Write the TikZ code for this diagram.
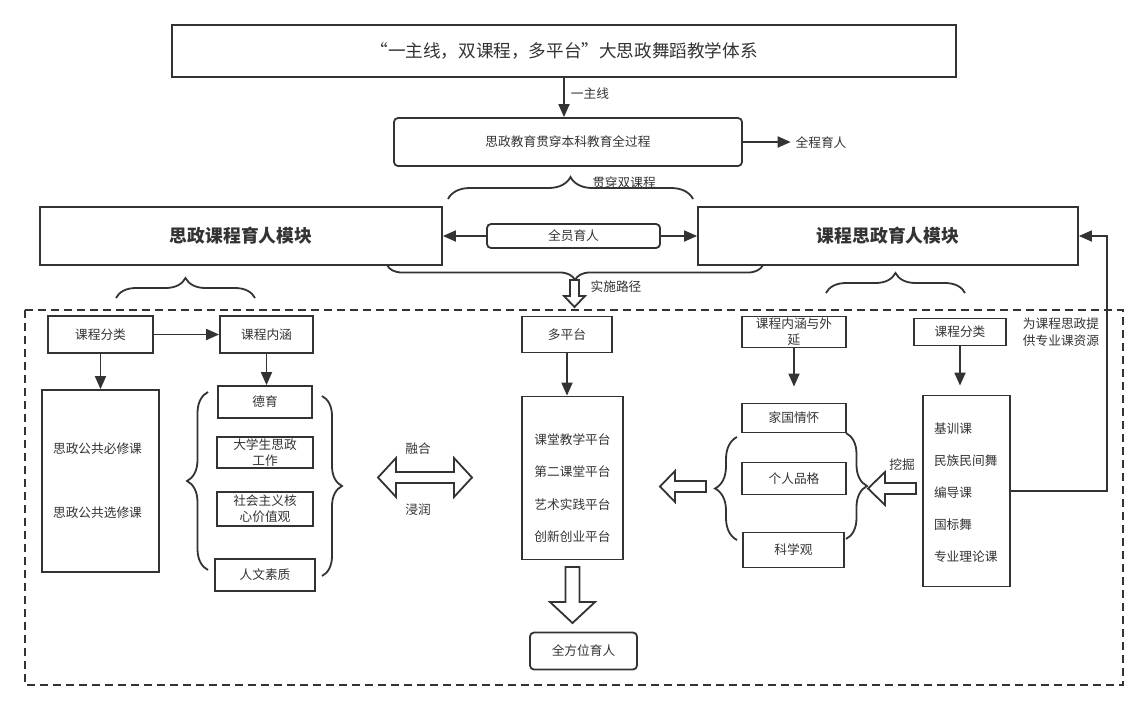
\documentclass[tikz,border=0pt]{standalone}
\usepackage{fontspec}
\setmainfont{Noto Sans CJK SC}
\usetikzlibrary{arrows.meta,decorations.pathreplacing}
\definecolor{ink}{HTML}{333333}

\begin{document}
\begin{tikzpicture}[x=1pt,y=-1pt,node distance=91pt,line width=1.8pt,color=ink,
  every node/.style={inner sep=0pt},
  arr/.style={-{Triangle[length=13pt,width=11pt]}},
  box/.style={draw,rectangle,align=center,font=\fontsize{12.7}{16}\selectfont},
  rbox/.style={box,rounded corners=4pt},
  modbox/.style={box,minimum height=58pt,font=\bfseries\fontsize{17.8}{20}\selectfont},
  lbl/.style={align=center,font=\fontsize{12.7}{17}\selectfont},
  brc/.style={decorate,decoration={brace,amplitude=#1}},
  hollow/.style={draw,fill=white,line join=miter}]

\useasboundingbox (0,0) rectangle (1148,710);

% top part
\node[box,minimum width=784pt,minimum height=52pt,font=\fontsize{17.6}{22}\selectfont](title) at (564,51){“一主线，双课程，多平台”大思政舞蹈教学体系};
\node[rbox,minimum width=348pt,minimum height=48pt](core)[below of=title,xshift=4pt]{思政教育贯穿本科教育全过程};
\node[rbox,minimum width=173pt,minimum height=24pt,node distance=94pt](all)[below of=core,xshift=5.5pt]{全员育人};
\node[modbox,minimum width=402pt,node distance=332.5pt](sz)[left of=all]{思政课程育人模块};
\node[modbox,minimum width=380pt,node distance=314.5pt](kc)[right of=all]{课程思政育人模块};

% left column
\node[box,minimum width=105pt,minimum height=37pt,node distance=98.5pt](clsl)[below of=sz,xshift=-140.5pt]{课程分类};
\node[box,minimum width=93pt,minimum height=37pt,node distance=166pt](conl)[right of=clsl]{课程内涵};
\node[box,minimum width=117pt,minimum height=182pt,node distance=146.5pt](pub)[below of=clsl]{};
\node[lbl,font=\fontsize{12.7}{64}\selectfont,xshift=-3pt](pubt) at (pub){思政公共必修课\\思政公共选修课};
\node[box,minimum width=94pt,minimum height=32pt,node distance=67.5pt](moral)[below of=conl,xshift=-1.5pt]{德育};
\node[box,minimum width=96pt,minimum height=31pt,node distance=50.5pt](stud)[below of=moral]{大学生思政\\工作};
\node[box,minimum width=96pt,minimum height=34pt,node distance=56.5pt](soc)[below of=stud]{社会主义核\\心价值观};
\node[box,minimum width=100pt,minimum height=32pt,node distance=66pt](hum)[below of=soc]{人文素质};

% middle column
\node[box,minimum width=90pt,minimum height=36pt,node distance=300.5pt](multi)[right of=conl]{多平台};
\node[box,minimum width=101pt,minimum height=163pt,node distance=143.5pt](plat)[below of=multi,xshift=5.5pt]{};
\node[lbl,font=\fontsize{12.7}{32.3}\selectfont,yshift=-10pt](platt) at (plat){课堂教学平台\\第二课堂平台\\艺术实践平台\\创新创业平台};
\node[rbox,minimum width=107pt,minimum height=37pt,node distance=173pt](whole)[below of=plat,xshift=11pt]{全方位育人};

% right column
\node[box,minimum width=104pt,minimum height=31pt,node distance=227pt](conr)[right of=multi,yshift=2.5pt]{课程内涵与外\\延};
\node[box,minimum width=104pt,minimum height=29pt,node distance=86pt](home)[below of=conr]{家国情怀};
\node[box,minimum width=104pt,minimum height=32pt,node distance=60.5pt](pers)[below of=home]{个人品格};
\node[box,minimum width=101pt,minimum height=35pt,node distance=71.5pt](sci)[below of=pers,xshift=-0.5pt]{科学观};
\node[box,minimum width=92pt,minimum height=27pt,node distance=166pt](clsr)[right of=conr]{课程分类};
\node[box,minimum width=87pt,minimum height=191pt,node distance=159pt](cour)[below of=clsr,xshift=6.5pt]{};
\node[lbl,align=left,font=\fontsize{12.7}{32}\selectfont,anchor=west,xshift=11pt,yshift=-1.5pt](court) at (cour.west){基训课\\民族民间舞\\编导课\\国标舞\\专业理论课};

% labels
\node[lbl](l1) at (590,94){一主线};
\node[lbl](l2) at (821,143){全程育人};
\node[lbl](l3) at (624,183){贯穿双课程};
\node[lbl](l4) at (616,287){实施路径};
\node[lbl](l5) at (418,449){融合};
\node[lbl](l6) at (418,510){浸润};
\node[lbl](l7) at (902,465){挖掘};
\node[lbl,align=left,anchor=west](l8) at (1022,332.5){为课程思政提\\供专业课资源};

% arrows
\draw[arr](title.south)--(title.south |- core.north);
\draw[arr,shorten >=4pt](core.east)--(core.east -| l2.west);
\draw[arr](all.west)--(sz.east);
\draw[arr](all.east)--(kc.west);
\draw[arr](clsl.east)--(conl.west);
\draw[arr](clsl.south)--(pub.north);
\draw[arr](conl.south)--(conl.south |- moral.north);
\draw[arr](multi.south)--(multi.south |- plat.north);
\draw[arr,shorten >=16pt](conr.south)--(home.north);
\draw[arr,shorten >=9pt](clsr.south)--(clsr.south |- cour.north);
\coordinate(turn) at (1107,236);
\draw[arr](cour.east) -| (turn) -- (kc.east);

% braces
\draw[brc=22pt](448,199)--(693,199);
\draw[brc=15pt](763,265)--(387,265);
\draw[brc=20pt](116,298)--(255,298);
\draw[brc=20pt](826,293)--(965,293);
\draw[brc=21pt](208,570)--(208,392);
\draw[brc=20pt](322,396)--(322,576);
\draw[brc=22pt](737,540)--(737,437);
\draw[brc=21pt](846,433)--(846,539);

% frame
\draw[dash pattern=on 8pt off 5pt](25,310) rectangle (1123,685);

% hollow arrows
\draw[hollow](570,280)--(579,280)--(579,296)--(585,296)--(574.5,307)--(564,296)--(570,296)--cycle;
\draw[hollow](565.5,567)--(579.5,567)--(579.5,602)--(595,602)--(572.5,623)--(550,602)--(565.5,602)--cycle;
\draw[hollow](378,477.5)--(396,458)--(396,472)--(454,472)--(454,458)--(472,477.5)--(454,497)--(454,483)--(396,483)--(396,497)--cycle;
\draw[hollow](660,486.5)--(675,471)--(675,481)--(706,481)--(706,492)--(675,492)--(675,502)--cycle;
\draw[hollow](868,488.5)--(885,472)--(885,483)--(916,483)--(916,494)--(885,494)--(885,505)--cycle;

\end{tikzpicture}
\end{document}
